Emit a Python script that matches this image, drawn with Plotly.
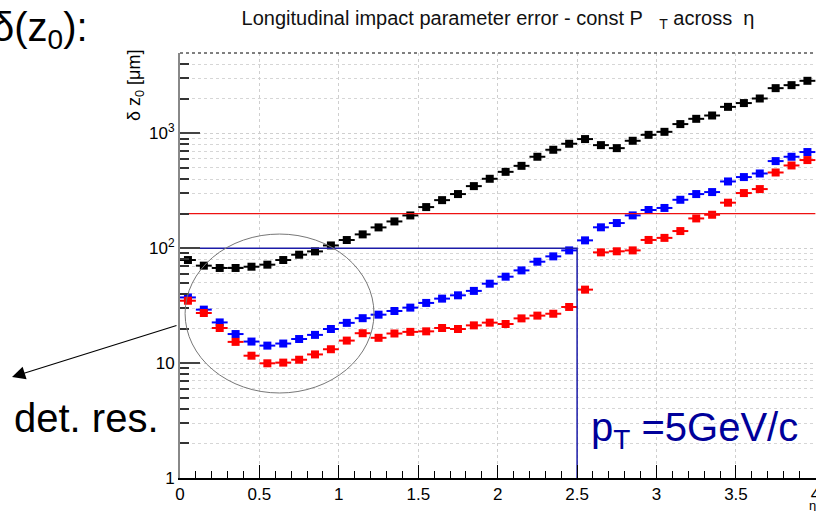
import plotly.graph_objects as go

# eta bin centres (bin width 0.1)
eta = [0.05, 0.15, 0.25, 0.35, 0.45, 0.55, 0.65, 0.75, 0.85, 0.95,
       1.05, 1.15, 1.25, 1.35, 1.45, 1.55, 1.65, 1.75, 1.85, 1.95,
       2.05, 2.15, 2.25, 2.35, 2.45, 2.55, 2.65, 2.75, 2.85, 2.95,
       3.05, 3.15, 3.25, 3.35, 3.45, 3.55, 3.65, 3.75, 3.85, 3.95]
half_bin = 0.05

# delta z0 [um] for the three configurations
dz0_black = [78.9, 70.5, 67.3, 67.3, 69.0, 71.9, 78.9, 87.8, 93.8, 105.7,
             117.8, 131.9, 151.7, 171, 192.8, 228, 262, 296, 347, 402,
             462, 521, 625, 719, 811, 891, 789, 743, 861, 970,
             1030, 1203, 1337, 1429, 1699, 1833, 2009, 2472, 2625, 2864]
dz0_blue = [37.3, 29.2, 22.6, 17.9, 15.4, 14.2, 14.8, 16.2, 17.6, 19.8,
            22.4, 24.6, 26.4, 28.4, 30.4, 33.4, 36.4, 38.9, 42.5, 49.1,
            56.5, 64.1, 76.3, 84.9, 95.7, 117, 152, 165.6, 193, 215,
            224, 264, 296, 308, 381, 416, 447, 573, 625, 687]
dz0_red = [34.9, 27.3, 20.2, 15.3, 11.6, 9.96, 10.1, 10.7, 11.9, 13.2,
           15.7, 18.2, 16.6, 18.1, 18.7, 18.9, 20.2, 19.8, 21.3, 22.5,
           21.9, 24.5, 25.9, 26.9, 30.8, 43.6, 92, 94, 95.7, 118,
           123, 141, 181.6, 195.5, 249, 302, 327, 456, 525, 585]

# reference levels
req_x = [0, 2.5, 2.5]
req_y = [100, 100, 1]
lim_x = [0, 4.0]
lim_y = [200, 200]

y_major = [1, 10, 100, 1000]
y_major_text = ["1", "10", "10<sup>2</sup>", "10<sup>3</sup>"]
y_minor = [m * d for d in (1, 10, 100, 1000) for m in range(2, 10) if m * d <= 5000]

FONT = "Liberation Sans, Arial, Helvetica, sans-serif"

fig = go.Figure()

for ys, col in ((dz0_black, "black"), (dz0_blue, "#0000ff"), (dz0_red, "#ff0000")):
    fig.add_trace(go.Scatter(
        x=eta, y=ys, mode="markers",
        marker=dict(symbol="square", size=8, color=col),
        error_x=dict(type="constant", value=half_bin, thickness=2, width=0, color=col),
        showlegend=False, hoverinfo="x+y",
    ))

fig.add_trace(go.Scatter(x=req_x, y=req_y, mode="lines",
                         line=dict(color="#1c1ca8", width=1.5),
                         showlegend=False, hoverinfo="skip"))
fig.add_trace(go.Scatter(x=lim_x, y=lim_y, mode="lines",
                         line=dict(color="#ee1111", width=1.2),
                         showlegend=False, hoverinfo="skip"))

fig.update_layout(
    width=816, height=511,
    margin=dict(l=180, r=0, t=53, b=33, autoexpand=False),
    paper_bgcolor="white", plot_bgcolor="white",
    font=dict(family=FONT, color="black", size=17),
    title=dict(text="Longitudinal impact parameter error - const P   <sub>T</sub> across  η",
               x=0.5, xref="paper", xanchor="center",
               y=1 - 18 / 511, yref="container", yanchor="middle",
               font=dict(size=20, family=FONT, color="#111")),
    xaxis=dict(range=[0, 4.004], dtick=0.5, tick0=0,
               ticks="inside", ticklen=13, tickwidth=1, tickcolor="black",
               showline=True, linecolor="black", linewidth=1.5,
               showgrid=True, gridcolor="#cfcfcf", griddash="dot", gridwidth=1,
               zeroline=False, ticklabeloverflow="allow", automargin=False,
               minor=dict(dtick=0.1, ticks="inside", ticklen=7, tickcolor="black", showgrid=False),
               tickfont=dict(size=17)),
    yaxis=dict(type="log", range=[0, 3.69897], automargin=False,
               tickmode="array", tickvals=y_major, ticktext=y_major_text,
               ticks="inside", ticklen=20, tickwidth=1.5, tickcolor="#444",
               showline=True, linecolor="#888", linewidth=2,
               showgrid=True, gridcolor="#cfcfcf", griddash="dot", gridwidth=1,
               zeroline=False,
               minor=dict(tickmode="array", tickvals=y_minor, ticks="inside", ticklen=9,
                          tickcolor="#333", showgrid=True, gridcolor="#d6d6d6", griddash="dot"),
               tickfont=dict(size=17)),
)

# dotted frame top
fig.add_shape(type="line", xref="paper", yref="paper", x0=0, x1=1, y0=1, y1=1,
              line=dict(color="black", width=1, dash="dot"))

# ellipse around the low-eta minimum
fig.add_shape(type="circle", xref="paper", yref="paper",
              x0=0.008, x1=0.305, y0=0.2, y1=0.574,
              line=dict(color="#777", width=1))

# axis titles
fig.add_annotation(text="δ z<sub>0</sub> [μm]", xref="paper", yref="paper",
                   x=-45 / 636, y=1 - 33 / 425, textangle=-90,
                   showarrow=False, font=dict(size=18, family=FONT),
                   xanchor="center", yanchor="middle")
fig.add_annotation(text="η", xref="paper", yref="paper",
                   x=1.003, y=-27 / 425, xanchor="right", yanchor="middle",
                   showarrow=False, font=dict(size=13, family=FONT))

# slide labels
fig.add_annotation(text="δ(z<sub>0</sub>):", xref="paper", yref="paper",
                   x=-90 / 636, y=1 + 23 / 425, xanchor="right", yanchor="middle",
                   showarrow=False, font=dict(size=40, family=FONT, color="black"))
fig.add_annotation(text="det. res.", xref="paper", yref="paper",
                   x=-168 / 636, y=(478 - 418) / 425, xanchor="left", yanchor="middle",
                   showarrow=False, font=dict(size=40, family=FONT, color="black"))
fig.add_annotation(text="", xref="paper", yref="paper",
                   x=-168 / 636, y=(478 - 377) / 425,
                   ax=166, ay=-52, axref="pixel", ayref="pixel",
                   showarrow=True, arrowhead=2, arrowsize=2.2, arrowwidth=1.2,
                   arrowcolor="black")
fig.add_annotation(text="p<sub>T</sub> =5GeV/c", xref="paper", yref="paper",
                   x=(589 - 180) / 636, y=(478 - 430) / 425, xanchor="left", yanchor="middle",
                   showarrow=False, font=dict(size=40, family=FONT, color="#00009a"))

fig.write_html("out.html")
